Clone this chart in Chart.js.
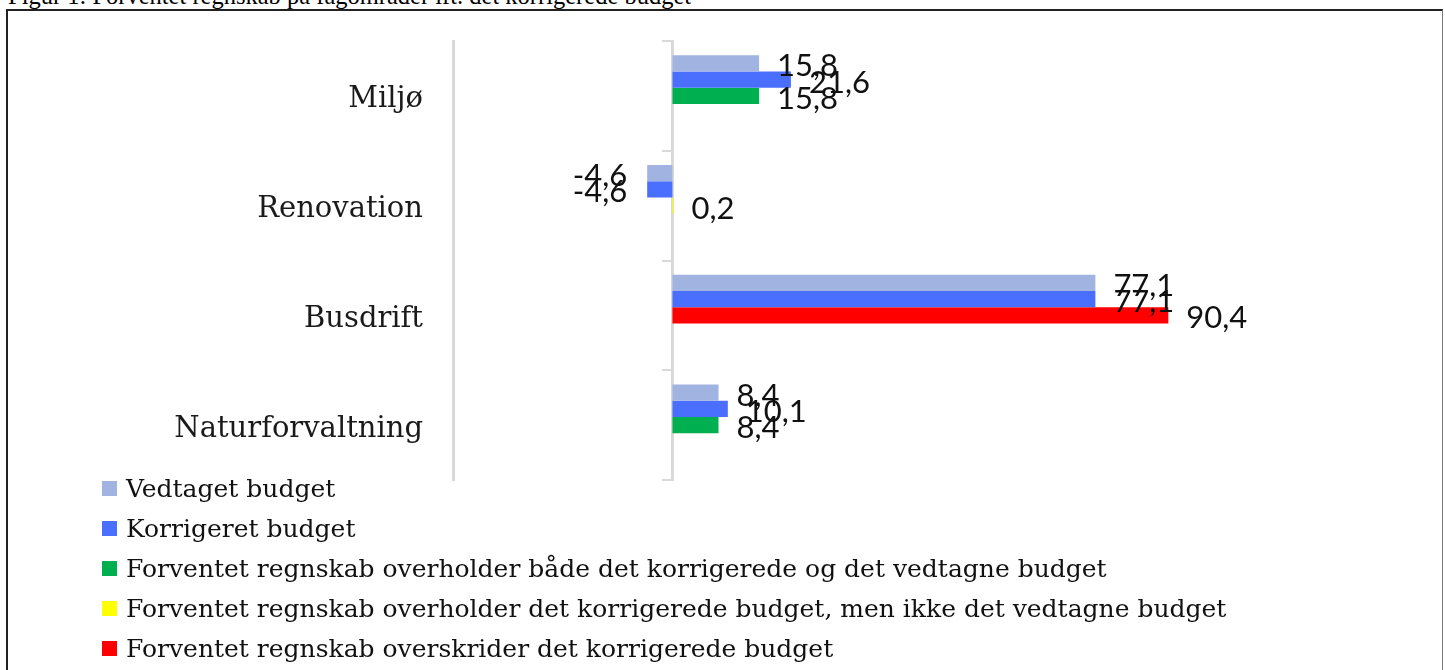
<!DOCTYPE html>
<html>
<head>
<meta charset="utf-8">
<script src="https://cdn.jsdelivr.net/npm/chart.js@4.4.1/dist/chart.umd.min.js"></script>
<style>
  html, body { margin: 0; padding: 0; background: #fff; overflow: hidden; }
  #wrap { position: relative; width: 1445px; height: 670px; overflow: hidden; }
  #caption { position: absolute; left: 8px; top: -17px; font: 24.5px "Liberation Serif", "Times New Roman", serif; color: #000; white-space: nowrap; line-height: 25px; }
  #frame { position: absolute; left: 6px; top: 9px; width: 1434px; height: 700px; border-top: 2px solid #222; border-left: 2px solid #222; border-right: 1px solid #777; }
  #chart { position: absolute; left: 0; top: 0; }
  #legend { position: absolute; left: 102px; top: 468px; margin: 0; padding: 0; list-style: none; }
  #legend li { height: 40px; display: flex; align-items: center; font: 25px "DejaVu Serif", serif; color: #111; white-space: nowrap; }
  #legend span.box { display: inline-block; width: 15px; height: 15px; margin-right: 9px; }
</style>
</head>
<body>
<div id="wrap">
  <div id="caption">Figur 1: Forventet regnskab på fagområder ift. det korrigerede budget</div>
  <div id="frame"></div>
  <canvas id="chart" width="1445" height="670"></canvas>
  <ul id="legend"></ul>
</div>
<script>
var kategorier = ['Miljø', 'Renovation', 'Busdrift', 'Naturforvaltning'];
var vedtaget = [15.8, -4.6, 77.1, 8.4];
var korrigeret = [21.6, -4.6, 77.1, 10.1];
var overholderBegge = [15.8, null, null, 8.4];
var overholderKorrigeret = [null, 0.2, null, null];
var overskrider = [null, null, 90.4, null];

var serieNavne = [
    'Vedtaget budget',
    'Korrigeret budget',
    'Forventet regnskab overholder både det korrigerede og det vedtagne budget',
    'Forventet regnskab overholder det korrigerede budget, men ikke det vedtagne budget',
    'Forventet regnskab overskrider det korrigerede budget'
];
var farver = ['#A1B3E0', '#4A6FFF', '#00B050', '#FFFF00', '#FF0000'];

var tom = [null, null, null, null];

// labels for the bars, comma as decimal sign
var dataLabels = {
    id: 'dataLabels',
    afterDatasetsDraw(chart) {
        var ctx = chart.ctx;
        ctx.save();
        ctx.font = '31px Lato, "Noto Sans", sans-serif';
        ctx.fillStyle = '#111';
        ctx.textBaseline = 'middle';
        chart.data.datasets.forEach((ds, i) => {
            if (ds.pad) return;
            var meta = chart.getDatasetMeta(i);
            meta.data.forEach((bar, j) => {
                var v = ds.data[j];
                if (v === null || v === undefined) return;
                var txt = v.toFixed(1).replace('.', ',');
                if (v >= 0) {
                    ctx.textAlign = 'left';
                    ctx.fillText(txt, bar.x + 18, bar.y + 3);
                } else {
                    ctx.textAlign = 'right';
                    ctx.fillText(txt, bar.x - 20, bar.y + 3);
                }
            });
        });
        ctx.restore();
    }
};

var ctx = document.getElementById('chart').getContext('2d');

var chart = new Chart(ctx, {
    type: 'bar',
    data: {
        labels: kategorier,
        datasets: [
            { label: serieNavne[0], data: vedtaget, backgroundColor: farver[0], stack: 'a' },
            { label: serieNavne[1], data: korrigeret, backgroundColor: farver[1], stack: 'b' },
            { label: serieNavne[2], data: overholderBegge, backgroundColor: farver[2], stack: 'c' },
            { label: serieNavne[3], data: overholderKorrigeret, backgroundColor: farver[3], stack: 'c' },
            { label: serieNavne[4], data: overskrider, backgroundColor: farver[4], stack: 'c' },
            // empty slots, the original leaves room for them under the bars
            { label: '', data: tom, stack: 'd', pad: true },
            { label: '', data: tom, stack: 'e', pad: true }
        ]
    },
    options: {
        indexAxis: 'y',
        responsive: false,
        animation: false,
        categoryPercentage: 0.74,
        barPercentage: 1.0,
        layout: { padding: { left: 0, top: 41, right: 224, bottom: 190 } },
        plugins: {
            legend: { display: false },
            tooltip: { enabled: false }
        },
        scales: {
            x: {
                type: 'linear',
                min: -40,
                max: 100,
                stacked: true,
                display: false
            },
            y: {
                type: 'category',
                position: 'left',
                stacked: true,
                offset: true,
                grid: { display: false, drawTicks: false },
                border: { display: true, color: '#d9d9d9', width: 3 },
                ticks: {
                    color: '#1a1a1a',
                    padding: 30,
                    labelOffset: 4,
                    font: { family: '"DejaVu Serif", serif', size: 29 }
                },
                afterFit(scale) {
                    scale.width = 453;
                    scale.paddingTop = 0;
                    scale.paddingBottom = 0;
                }
            },
            y2: {
                type: 'category',
                position: { x: 0 },
                offset: true,
                z: 1,
                grid: { offset: true, drawOnChartArea: false, drawTicks: true, tickLength: 9, color: '#d9d9d9', lineWidth: 2 },
                border: { display: true, color: '#d9d9d9', width: 3 },
                ticks: { display: false }
            }
        }
    },
    plugins: [dataLabels]
});

// legend as a list under the chart
var items = Chart.defaults.plugins.legend.labels.generateLabels(chart);
var ul = document.getElementById('legend');
items.forEach(it => {
    if (chart.data.datasets[it.datasetIndex].pad) return;
    var li = document.createElement('li');
    var box = document.createElement('span');
    box.className = 'box';
    box.style.background = it.fillStyle;
    li.appendChild(box);
    li.appendChild(document.createTextNode(it.text));
    ul.appendChild(li);
});
</script>
</body>
</html>
